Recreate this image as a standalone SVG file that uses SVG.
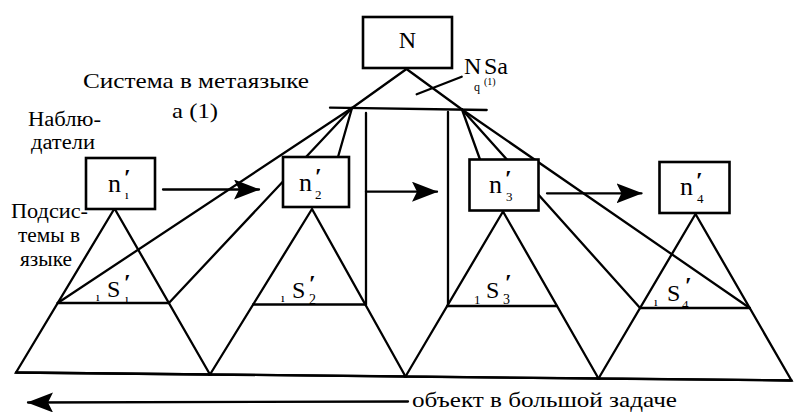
<svg xmlns="http://www.w3.org/2000/svg" width="811" height="414" viewBox="0 0 811 414">
<defs>
<style>
.ln{stroke:#000;stroke-width:2.3;fill:none;stroke-linecap:round}
.bx{stroke:#000;stroke-width:2.6;fill:#fff}
.t{font-family:"Liberation Serif","DejaVu Serif",serif;fill:#000}
.pr{font-family:"Liberation Serif","DejaVu Serif",serif;font-weight:bold;fill:#000}
</style>
<marker id="ah" viewBox="0 0 26 20" refX="25" refY="10" markerWidth="26" markerHeight="20" markerUnits="userSpaceOnUse" orient="auto">
<path d="M0,0 L26,10 L0,20 L5,10 z" fill="#000"/>
</marker>
</defs>
<rect width="811" height="414" fill="#fff"/>

<g id="connectors">
<polyline class="ln" points="352,108 406.5,69 462,109.5"/>
<line class="ln" x1="330" y1="107.7" x2="486.7" y2="110"/>
<line class="ln" x1="416.7" y1="94.3" x2="461.7" y2="76.7"/>
<line class="ln" x1="352" y1="108" x2="57.7" y2="303"/>
<line class="ln" x1="352" y1="108" x2="168.9" y2="303"/>
<line class="ln" x1="352" y1="108" x2="338" y2="157"/>
<line class="ln" x1="366" y1="113" x2="366" y2="304.5"/>
<line class="ln" x1="462" y1="109.5" x2="749.7" y2="308"/>
<line class="ln" x1="462" y1="109.5" x2="640.1" y2="308"/>
<line class="ln" x1="462" y1="109.5" x2="480" y2="159.5"/>
<line class="ln" x1="448" y1="112" x2="448" y2="306"/>
<line class="ln" x1="163" y1="189.5" x2="259" y2="189.5" marker-end="url(#ah)"/>
<line class="ln" x1="366" y1="191.7" x2="437" y2="191.7" marker-end="url(#ah)"/>
<line class="ln" x1="547" y1="193.3" x2="641.5" y2="193.3" marker-end="url(#ah)"/>
<line class="ln" x1="408" y1="401.5" x2="28" y2="402.5" marker-end="url(#ah)"/>
</g>

<g id="S1">
<polygon class="ln" points="114.5,208.5 16,372.5 210,374.5"/>
<line class="ln" x1="57.7" y1="303" x2="168.9" y2="303"/>
<text class="t" x="96" y="301" font-size="13">ı</text>
<text class="t" x="107" y="297" font-size="24">S</text>
<text class="pr" x="124" y="290" font-size="24">′</text>
<text class="t" x="125" y="303" font-size="13">ı</text>
</g>
<g id="S2">
<polygon class="ln" points="312,209 210,374.5 405.5,376.5"/>
<line class="ln" x1="253.1" y1="304.5" x2="366" y2="304.5"/>
<text class="t" x="281" y="302" font-size="13">ı</text>
<text class="t" x="292" y="298" font-size="24">S</text>
<text class="pr" x="309" y="291" font-size="24">′</text>
<text class="t" x="309" y="304" font-size="14">2</text>
</g>
<g id="S3">
<polygon class="ln" points="503,211.5 405.5,376.5 598.5,378.5"/>
<line class="ln" x1="447.2" y1="306" x2="557" y2="306"/>
<text class="t" x="474" y="304" font-size="13">1</text>
<text class="t" x="486" y="298" font-size="24">S</text>
<text class="pr" x="505" y="290" font-size="24">′</text>
<text class="t" x="503" y="304" font-size="14">3</text>
</g>
<g id="S4">
<polygon class="ln" points="695.5,214 598.5,378.5 791.5,380.5"/>
<line class="ln" x1="640.1" y1="308" x2="749.7" y2="308"/>
<text class="t" x="654" y="306" font-size="13">ı</text>
<text class="t" x="667" y="301" font-size="24">S</text>
<text class="pr" x="685" y="293" font-size="24">′</text>
<text class="t" x="682" y="309" font-size="13">4</text>
</g>
<line class="ln" x1="16" y1="372.5" x2="791.5" y2="380.5"/>

<g id="N">
<rect class="bx" x="363" y="17" width="89" height="51"/>
<text class="t" x="407.5" y="48" font-size="24" text-anchor="middle">N</text>
</g>
<g id="n1">
<rect class="bx" x="86" y="158" width="69" height="51"/>
<text class="t" x="108" y="192" font-size="26">n</text>
<text class="pr" x="124" y="185" font-size="24">′</text>
<text class="t" x="125" y="199" font-size="13">ı</text>
</g>
<g id="n2">
<rect class="bx" x="283" y="157" width="66" height="50"/>
<text class="t" x="299" y="191" font-size="26">n</text>
<text class="pr" x="315" y="184" font-size="24">′</text>
<text class="t" x="315" y="199" font-size="13">2</text>
</g>
<g id="n3">
<rect class="bx" x="469.5" y="159.5" width="69" height="51"/>
<text class="t" x="489" y="193" font-size="26">n</text>
<text class="pr" x="505" y="186" font-size="24">′</text>
<text class="t" x="506" y="201" font-size="13">3</text>
</g>
<g id="n4">
<rect class="bx" x="659.5" y="162" width="70" height="51"/>
<text class="t" x="680" y="195" font-size="26">n</text>
<text class="pr" x="696" y="188" font-size="24">′</text>
<text class="t" x="697" y="203" font-size="13">4</text>
</g>

<g id="labels">
<text class="t" x="83" y="88" font-size="22" textLength="226" lengthAdjust="spacingAndGlyphs">Система в метаязыке</text>
<text class="t" x="172" y="118" font-size="22" textLength="46" lengthAdjust="spacingAndGlyphs">а (1)</text>
<text class="t" x="28" y="126" font-size="20" textLength="73" lengthAdjust="spacingAndGlyphs">Наблю-</text>
<text class="t" x="31" y="149" font-size="20" textLength="64" lengthAdjust="spacingAndGlyphs">датели</text>
<text class="t" x="11" y="218" font-size="20" textLength="77" lengthAdjust="spacingAndGlyphs">Подсис-</text>
<text class="t" x="18" y="242" font-size="20" textLength="62" lengthAdjust="spacingAndGlyphs">темы в</text>
<text class="t" x="20" y="266" font-size="20" textLength="52" lengthAdjust="spacingAndGlyphs">языке</text>
<text class="t" x="412" y="407" font-size="22" textLength="265" lengthAdjust="spacingAndGlyphs">объект в большой задаче</text>
<text class="t" x="464" y="74" font-size="24">N</text>
<text class="t" x="474" y="91" font-size="12">q</text>
<text class="t" x="484" y="85" font-size="10">(1)</text>
<text class="t" x="484" y="74" font-size="24">Sa</text>
</g>
</svg>
